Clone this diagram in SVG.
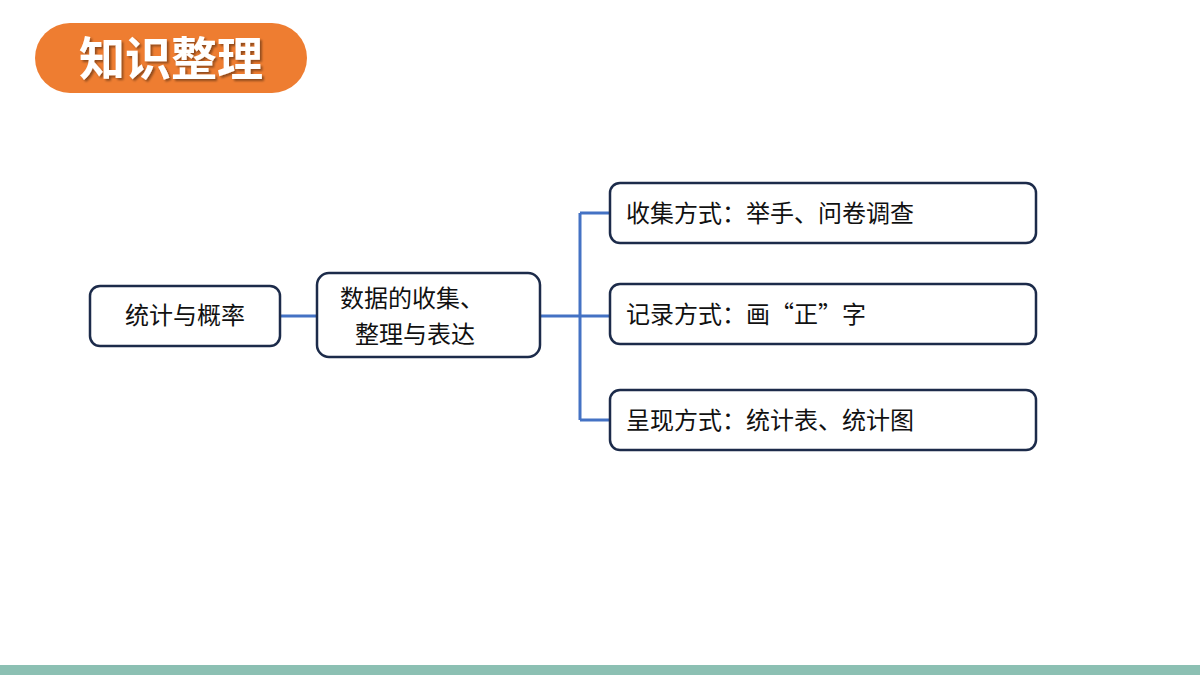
<svg xmlns="http://www.w3.org/2000/svg" width="1200" height="675" viewBox="0 0 1200 675">
<style>
.box{fill:#fff;stroke:#1c2b4a;stroke-width:2.5}
.t{font-family:"Noto Sans CJK SC",sans-serif;font-size:24px;fill:#111}
.ln{fill:none;stroke:#4472c4;stroke-width:3}
</style>
<defs><filter id="sh" x="-10%" y="-10%" width="130%" height="130%"><feDropShadow dx="2" dy="2" stdDeviation="1" flood-color="#000" flood-opacity="0.4"/></filter></defs>
<rect width="1200" height="675" fill="#fff"/>
<g id="title">
<rect x="35" y="23" width="272" height="70" rx="35" fill="#ee7d31"/>
<text x="171" y="75" text-anchor="middle" font-family="'Noto Sans CJK SC',sans-serif" font-weight="bold" font-size="46" fill="#fff" filter="url(#sh)">知识整理</text>
</g>
<g id="connectors">
<path class="ln" d="M280 316H317M540 316H610M580 213V420M580 213H610M580 420H610"/>
</g>
<g id="n1"><rect class="box" x="90" y="286" width="190" height="60" rx="10"/><text class="t" x="185" y="324" text-anchor="middle">统计与概率</text></g>
<g id="n2"><rect class="box" x="317" y="273" width="223" height="84" rx="12"/><text class="t" x="340" y="307">数据的收集、</text><text class="t" x="355" y="343">整理与表达</text></g>
<g id="n3"><rect class="box" x="610" y="183" width="426" height="60" rx="10"/><text class="t" x="626" y="222">收集方式：举手、问卷调查</text></g>
<g id="n4"><rect class="box" x="610" y="284" width="426" height="60" rx="10"/><text class="t" x="626" y="323">记录方式：画“正”字</text></g>
<g id="n5"><rect class="box" x="610" y="390" width="426" height="60" rx="10"/><text class="t" x="626" y="429">呈现方式：统计表、统计图</text></g>
<rect x="0" y="665" width="1200" height="10" fill="#8cc0b3"/>
</svg>
